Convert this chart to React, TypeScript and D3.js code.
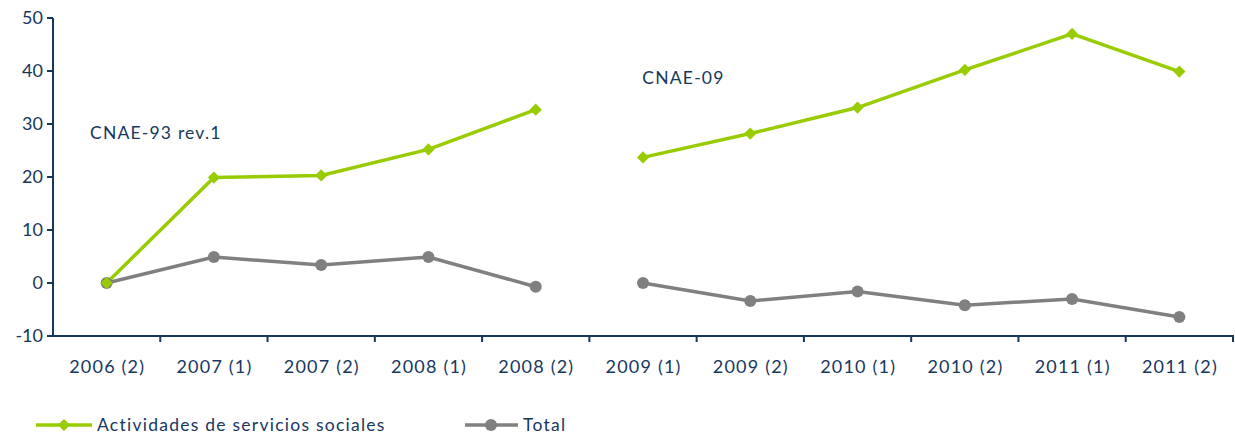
import React from "react";
import * as d3 from "d3";

const categories = ["2006 (2)", "2007 (1)", "2007 (2)", "2008 (1)", "2008 (2)", "2009 (1)", "2009 (2)", "2010 (1)", "2010 (2)", "2011 (1)", "2011 (2)"];
const sociales: (number | null)[] = [0, 19.9, 20.3, 25.2, 32.7, null, 23.7, 28.2, 33.1, 40.2, 47.0, 39.9];
const total: (number | null)[] = [0, 4.9, 3.4, 4.9, -0.7, null, 0, -3.4, -1.6, -4.2, -3.0, -6.4];
const yTicks = [-10, 0, 10, 20, 30, 40, 50];
const annotationTexts = ["CNAE-93 rev.1", "CNAE-09"];
const annotationValues = [27.1, 37.5];

// Series values include a null break between the two classification periods.
function toPoints(vals: (number | null)[]) {
  const pts: { i: number; v: number | null }[] = [];
  let ci = 0;
  vals.forEach((v) => {
    if (v === null) {
      pts.push({ i: -1, v: null });
    } else {
      pts.push({ i: ci, v });
      ci++;
    }
  });
  return pts;
}

const W = 1235;
const H = 437;
const NAVY = "#17375E";
const GREEN = "#99CC00";
const GRAY = "#808080";
const FONT = "'Century Gothic', Lato, 'Open Sans', sans-serif";

export default function App() {
  const left = 53;
  const right = 1233;
  const x = d3.scaleBand<string>().domain(categories).range([left, right]);
  const y = d3.scaleLinear().domain([-10, 50]).range([336, 18]);
  const cx = (i: number) => (x(categories[i]) as number) + x.bandwidth() / 2;

  const line = d3
    .line<{ i: number; v: number | null }>()
    .defined((d) => d.v !== null)
    .x((d) => cx(d.i))
    .y((d) => y(d.v as number));

  const sPts = toPoints(sociales);
  const tPts = toPoints(total);
  const diamond = d3.symbol().type(d3.symbolDiamond2).size(95)();
  const annX = [x(categories[0]) as number + 37, x(categories[5]) as number + 53];

  return (
    <svg width={W} height={H} style={{ position: "absolute", left: 0, top: 0 }} fontFamily={FONT}>
      {/* y axis */}
      <line x1={left} x2={left} y1={y(50)} y2={y(-10)} stroke={NAVY} strokeWidth={2} />
      {yTicks.map((t) => (
        <g key={t}>
          <line x1={left - 6} x2={left} y1={y(t)} y2={y(t)} stroke={NAVY} strokeWidth={2} />
          <text x={left - 10} y={y(t)} dy="0.35em" textAnchor="end" fontSize={18} fill={NAVY}>
            {t}
          </text>
        </g>
      ))}
      {/* x axis */}
      <line x1={left} x2={right + 1} y1={y(-10)} y2={y(-10)} stroke={NAVY} strokeWidth={2} />
      {categories.map((c, i) => (
        <g key={c}>
          <line
            x1={(x(c) as number) + x.bandwidth()}
            x2={(x(c) as number) + x.bandwidth()}
            y1={y(-10)}
            y2={y(-10) + 6}
            stroke={NAVY}
            strokeWidth={2}
          />
          <text x={cx(i) + 0.6} y={y(-10) + 37} textAnchor="middle" fontSize={18} letterSpacing={1.2} fill={NAVY}>
            {c}
          </text>
        </g>
      ))}
      {/* lines */}
      <path d={line(tPts) || ""} fill="none" stroke={GRAY} strokeWidth={3.5} />
      <path d={line(sPts) || ""} fill="none" stroke={GREEN} strokeWidth={3.5} />
      {tPts
        .filter((d) => d.v !== null)
        .map((d) => (
          <circle key={"t" + d.i} cx={cx(d.i)} cy={y(d.v as number)} r={6} fill={GRAY} />
        ))}
      {sPts
        .filter((d) => d.v !== null)
        .map((d) => (
          <path key={"s" + d.i} d={diamond || ""} transform={`translate(${cx(d.i)},${y(d.v as number)})`} fill={GREEN} />
        ))}
      {/* annotations */}
      {annotationTexts.map((t, k) => (
        <text key={t} x={annX[k]} y={y(annotationValues[k])} fontSize={17.5} letterSpacing={1.2} fill={NAVY}>
          {t}
        </text>
      ))}
      {/* legend */}
      <g transform="translate(36,425)">
        <line x1={0} x2={56} y1={0} y2={0} stroke={GREEN} strokeWidth={3.5} />
        <path d={diamond || ""} transform="translate(28,0)" fill={GREEN} />
        <text x={61} y={0} dy="0.35em" fontSize={17.5} letterSpacing={1.25} fill={NAVY}>
          Actividades de servicios sociales
        </text>
      </g>
      <g transform="translate(465,425)">
        <line x1={0} x2={53} y1={0} y2={0} stroke={GRAY} strokeWidth={3.5} />
        <circle cx={26} cy={0} r={6} fill={GRAY} />
        <text x={58} y={0} dy="0.35em" fontSize={17.5} letterSpacing={1.25} fill={NAVY}>
          Total
        </text>
      </g>
    </svg>
  );
}
